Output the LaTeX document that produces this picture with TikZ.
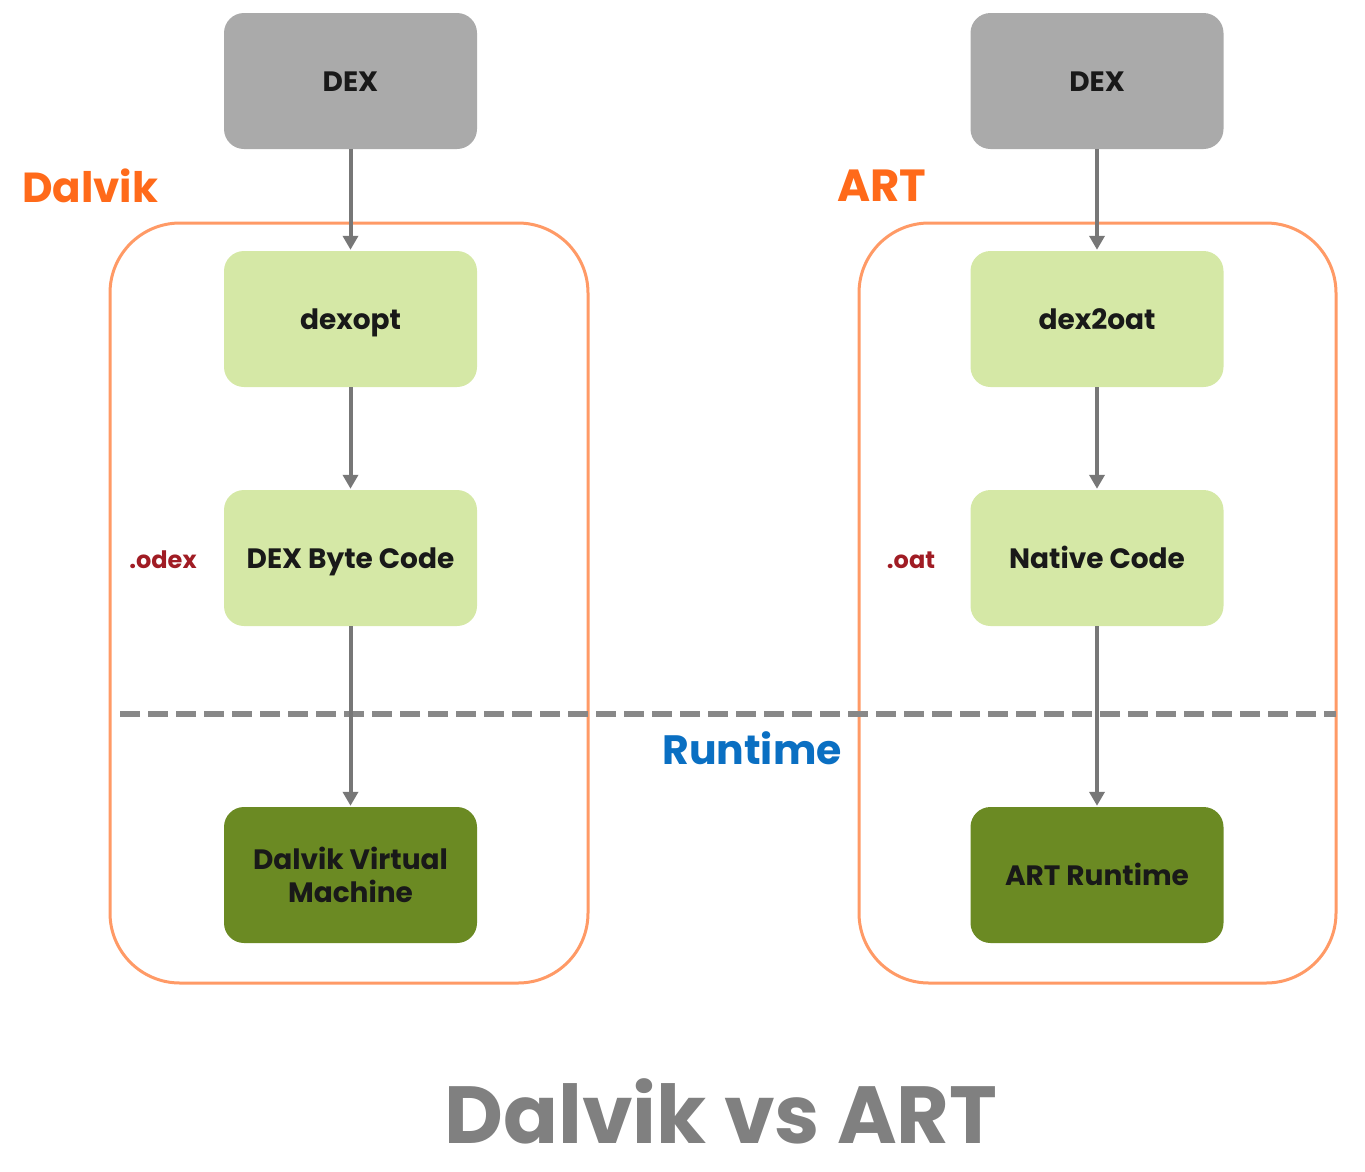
\documentclass[tikz,border=0pt]{standalone}
\usepackage{fontspec}
\setmainfont{Poppins}
\usetikzlibrary{arrows.meta}
\definecolor{dexgray}{HTML}{AAAAAA}
\definecolor{lgreen}{HTML}{D5E8A6}
\definecolor{dgreen}{HTML}{6B8A23}
\definecolor{orangeline}{HTML}{FF9A66}
\definecolor{orangetext}{HTML}{FF6A1A}
\definecolor{darkred}{HTML}{A01C24}
\definecolor{runblue}{HTML}{0A6FC2}
\definecolor{arrowgray}{HTML}{777777}
\definecolor{dashgray}{HTML}{888888}
\definecolor{titlegray}{HTML}{808080}
\tikzset{
  box/.style={rounded corners=20pt, minimum width=253pt, minimum height=136pt, inner sep=0pt, align=center, font=\fontsize{28}{33}\selectfont\bfseries, text=black!90, text height=20pt, text depth=0pt},
  twoline/.style={text height=, text depth=},
  graybox/.style={box, fill=dexgray},
  lightbox/.style={box, fill=lgreen},
  darkbox/.style={box, fill=dgreen},
  container/.style={draw=orangeline, line width=3pt, rounded corners=70pt},
  conn/.style={draw=arrowgray, line width=4pt, -{Triangle[length=14pt,width=15pt]}, shorten >=1pt},
  sidelabel/.style={font=\fontsize{42}{48}\selectfont\bfseries, text=orangetext},
  extlabel/.style={font=\fontsize{24}{28}\selectfont\bfseries, text=darkred}
}
\begin{document}
\begin{tikzpicture}[x=1pt,y=-1pt]
\useasboundingbox (0,0) rectangle (1365,1171);
% containers
\draw[container] (110,223) rectangle (588,983);
\draw[container] (859,223) rectangle (1336,983);
% dashed runtime line
\draw[dashgray, line width=6pt, dash pattern=on 20pt off 8pt] (120,714) -- (1336,714);
% labels
\node[sidelabel, anchor=west, inner sep=0pt] (dl) at (22,186) {Dalvik};
\node[sidelabel, anchor=west, inner sep=0pt, font=\fontsize{45}{50}\selectfont\bfseries] (al) at (837,186) {ART};
\node[font=\fontsize{41}{46}\selectfont\bfseries, text=runblue] (rt) at (752,748) {Runtime};
\node[extlabel] (odex) at (163,560) {.odex};
\node[extlabel] (oat) at (911,560) {.oat};
% left column
\node[graybox] (ldex) at (350.5,81) {DEX};
\node[lightbox] (dexopt) at (350.5,319) {dexopt};
\node[lightbox] (dbc) at (350.5,558) {DEX Byte Code};
\node[darkbox, twoline] (dvm) at (350.5,875) {Dalvik Virtual\\Machine};
% right column
\node[graybox] (rdex) at (1097,81) {DEX};
\node[lightbox] (d2o) at (1097,319) {dex2oat};
\node[lightbox] (nc) at (1097,558) {Native Code};
\node[darkbox] (artr) at (1097,875) {ART Runtime};
% connectors
\draw[conn] (ldex.south) -- (dexopt.north);
\draw[conn] (dexopt.south) -- (dbc.north);
\draw[conn] (dbc.south) -- (dvm.north);
\draw[conn] (rdex.south) -- (d2o.north);
\draw[conn] (d2o.south) -- (nc.north);
\draw[conn] (nc.south) -- (artr.north);
% title
\node[font=\fontsize{81}{88}\selectfont\bfseries, text=titlegray, anchor=base, inner sep=0pt] (title) at (721,1143) {Dalvik vs ART};
\end{tikzpicture}
\end{document}
